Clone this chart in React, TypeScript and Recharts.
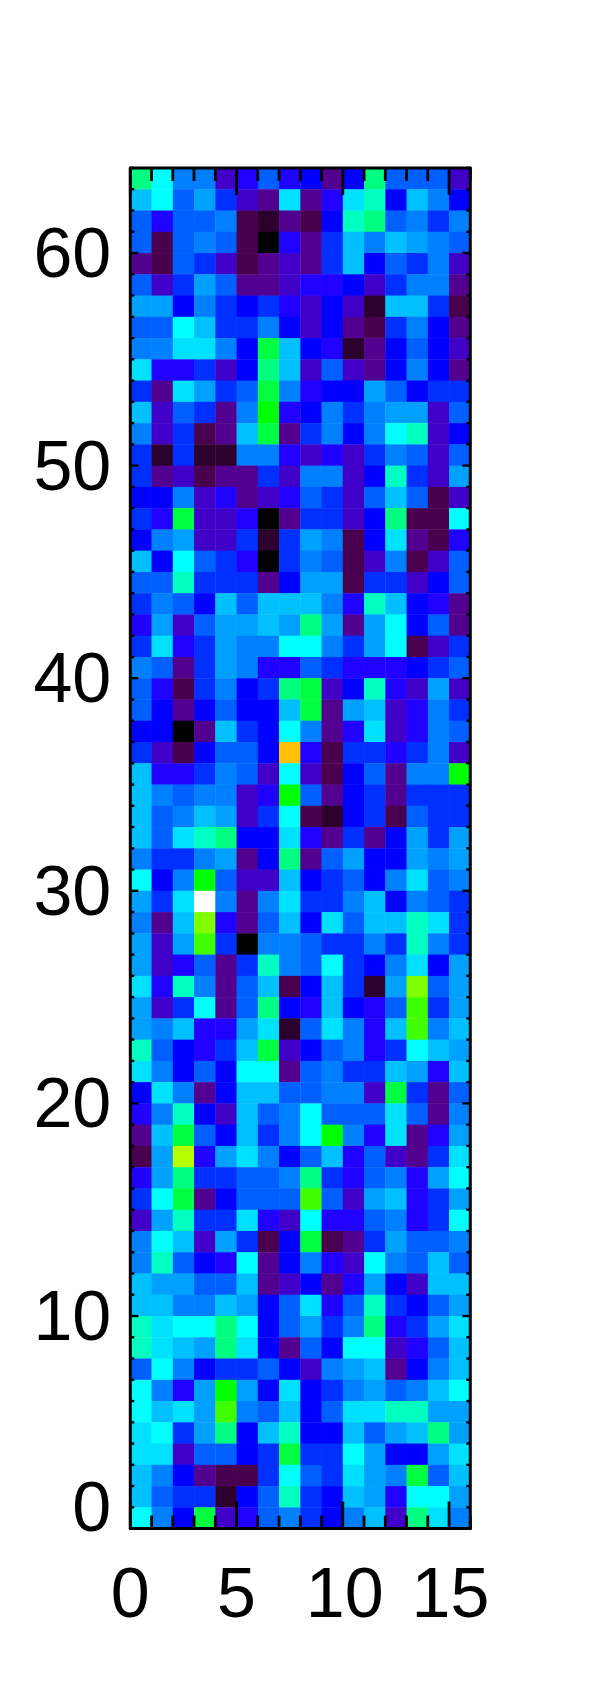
import React from "react";
import { ScatterChart, Scatter, XAxis, YAxis } from "recharts";

const xTicks = [0, 1, 2, 3, 4, 5, 6, 7, 8, 9, 10, 11, 12, 13, 14, 15, 16];
const xLabels = [0, 5, 10, 15];
const yTicks = [0,1,2,3,4,5,6,7,8,9,10,11,12,13,14,15,16,17,18,19,20,21,22,23,24,25,26,27,28,29,30,31,32,33,34,35,36,37,38,39,40,41,42,43,44,45,46,47,48,49,50,51,52,53,54,55,56,57,58,59,60,61,62,63,64];
const yLabels = [0, 10, 20, 30, 40, 50, 60];

const colourScale = [
  "#000000", "#2c002c", "#48004f", "#520090", "#4000c8", "#2000ff", "#0000ff", "#0030ff",
  "#0060ff", "#0080ff", "#00a0ff", "#00c0ff", "#00e0ff", "#00ffff", "#00ffc0", "#00ff80",
  "#00ff40", "#00ff00", "#40ff00", "#80ff00", "#b8ff00", "#ffc000", "#ffffff",
];

// colour-scale levels, rows from y = 63 (top) to y = 0 (bottom)
const levels = [
  [15,13,9,9,4,5,8,5,6,3,6,15,8,8,8,4],
  [11,13,8,10,7,4,3,12,3,5,12,14,6,11,9,6],
  [8,5,8,8,9,2,1,3,2,6,14,15,8,9,7,9],
  [8,2,8,9,8,2,0,5,3,7,11,9,11,10,9,8],
  [3,2,8,7,4,2,3,4,3,7,11,6,8,7,9,4],
  [8,4,7,10,8,3,3,4,5,5,6,4,7,9,9,3],
  [10,10,6,9,7,6,7,5,4,6,4,1,11,11,7,2],
  [8,8,13,11,7,7,9,6,4,6,3,2,7,9,6,3],
  [9,9,12,12,9,6,16,11,6,5,1,3,6,8,6,4],
  [12,5,5,7,4,6,15,11,4,8,4,3,6,9,6,3],
  [7,3,12,10,7,8,16,9,5,6,6,10,8,6,7,7],
  [11,4,8,7,3,9,17,5,6,9,7,9,10,10,4,8],
  [9,4,7,2,3,11,16,3,7,9,6,9,13,14,4,6],
  [7,1,7,1,1,9,9,5,4,5,4,7,9,8,4,8],
  [7,3,4,2,3,3,7,4,9,9,4,6,14,7,4,10],
  [6,6,9,4,5,3,4,5,8,7,4,8,11,8,2,4],
  [7,5,16,4,4,5,0,3,7,7,4,6,15,2,2,13],
  [6,9,10,4,4,7,1,7,10,9,2,6,12,3,2,5],
  [11,6,13,8,7,5,0,7,9,8,2,4,9,2,4,8],
  [8,8,14,7,7,7,3,6,10,10,2,7,7,4,6,8],
  [7,9,8,6,11,8,11,11,11,9,5,14,11,6,5,3],
  [5,10,4,8,10,10,11,10,15,10,3,10,13,6,8,3],
  [7,12,5,7,10,9,9,13,13,9,7,10,13,2,4,7],
  [9,8,3,7,10,9,5,5,8,7,5,5,5,6,7,8],
  [8,5,2,7,9,6,7,15,16,4,6,14,5,4,10,4],
  [8,6,3,6,8,6,6,11,16,3,10,11,4,5,9,7],
  [6,6,0,3,11,7,6,13,9,3,5,12,4,5,9,8],
  [7,4,2,6,8,8,6,21,5,2,7,7,5,7,9,4],
  [11,5,5,7,9,8,4,13,4,2,6,8,3,9,9,17],
  [11,9,8,9,9,4,5,17,8,3,6,7,3,7,7,7],
  [11,8,9,11,10,4,7,13,2,1,6,7,2,8,7,7],
  [11,8,12,14,15,6,6,12,5,3,7,3,6,10,7,10],
  [9,7,7,9,10,3,6,15,3,8,10,6,6,10,9,10],
  [13,6,9,17,8,4,4,11,6,7,8,6,9,12,8,9],
  [10,7,12,22,9,3,9,12,7,7,9,11,6,9,8,7],
  [9,3,11,19,5,3,8,11,6,12,8,11,11,14,12,7],
  [10,4,10,18,7,0,9,9,8,7,7,9,7,14,9,7],
  [10,4,5,8,3,7,14,9,8,13,7,6,9,12,6,10],
  [12,5,14,9,3,8,11,2,6,11,7,1,10,19,8,10],
  [10,4,7,13,3,8,15,6,5,11,6,5,8,18,7,10],
  [10,9,11,5,5,10,12,1,8,12,9,5,11,18,9,11],
  [14,8,6,5,7,11,16,4,6,8,9,5,7,13,11,10],
  [12,9,6,8,6,13,13,3,8,9,7,7,11,10,5,11],
  [6,12,9,3,6,11,11,8,8,9,9,4,16,7,3,8],
  [5,9,14,6,4,11,8,9,13,8,8,8,12,8,3,9],
  [3,11,16,8,6,11,7,9,13,17,9,5,12,3,5,10],
  [2,10,20,5,10,12,9,6,8,11,5,8,4,3,7,12],
  [5,10,15,7,7,8,8,9,15,7,5,8,9,5,10,13],
  [7,13,16,3,6,8,8,8,18,8,4,10,11,5,7,10],
  [4,10,14,7,7,12,5,4,13,5,5,8,9,5,7,13],
  [9,13,11,4,10,7,2,6,16,2,3,7,10,8,8,9],
  [9,14,8,6,5,13,3,6,9,5,4,13,9,8,11,8],
  [11,10,10,8,8,11,3,4,6,3,5,10,6,4,11,11],
  [11,11,9,9,11,10,6,8,12,5,8,14,7,6,8,10],
  [14,12,13,13,15,13,6,8,10,7,9,15,5,7,10,12],
  [14,12,11,10,15,12,6,3,8,6,13,13,4,5,8,11],
  [8,13,9,6,7,7,8,6,4,9,10,11,3,6,9,11],
  [13,9,5,10,17,10,6,12,6,7,9,10,8,9,11,13],
  [13,11,12,10,18,9,8,11,6,8,12,12,14,14,10,10],
  [12,13,7,10,15,6,11,14,6,6,11,8,10,11,15,10],
  [12,12,4,8,8,6,7,16,7,7,13,10,6,6,10,12],
  [11,9,6,3,2,2,7,13,8,7,12,10,9,16,8,11],
  [11,8,7,7,1,6,8,14,7,6,11,10,5,13,13,10],
  [13,9,6,16,4,5,8,9,7,6,9,11,4,15,12,9],
];

const cells = levels.flatMap((row, r) =>
  row.map((level, c) => ({ x: c + 0.5, y: levels.length - 1 - r + 0.5, level }))
);

const W = 582;
const H = 1683;
const PL = 122.3;
const PT = 160;
const PW = 340;
const PH = 1360.6;
const FONT = "'Liberation Sans', Arial, sans-serif";
const FS = 70;

const Cell = (p: any) => {
  const w = PW / 16;
  const h = PH / levels.length;
  return (
    <rect x={p.cx - w / 2} y={p.cy - h / 2} width={w + 0.4} height={h + 0.4}
      fill={colourScale[p.payload.level]} stroke="none" />
  );
};
const NoMark = () => null;

const BottomTick = (p: any) => {
  const v = p.payload.value;
  const X = p.payload.coordinate;
  const major = v % 5 === 0;
  const Y = PT + PH;
  return (
    <g>
      <line x1={X} x2={X} y1={Y} y2={Y - (major ? 27 : 13)} stroke="#000" strokeWidth={2.8} />
      {xLabels.includes(v) && (
        <text x={X + (v === 10 ? 2 : v === 15 ? 1.5 : 0)} y={1609} textAnchor="middle" fontFamily={FONT} fontSize={FS} fill="#000">{v}</text>
      )}
    </g>
  );
};
const TopTick = (p: any) => {
  const v = p.payload.value;
  const X = p.payload.coordinate;
  const major = v % 5 === 0;
  return <line x1={X} x2={X} y1={PT} y2={PT + (major ? 27 : 13)} stroke="#000" strokeWidth={2.8} />;
};
const LeftTick = (p: any) => {
  const v = p.payload.value;
  const Y = p.payload.coordinate;
  const major = v % 10 === 0;
  return (
    <g>
      <line x1={PL} x2={PL + (major ? 8 : 4)} y1={Y} y2={Y} stroke="#000" strokeWidth={2.4} />
      {yLabels.includes(v) && (
        <text x={PL - 19} y={v === 0 ? Y + 2.5 : Y + 24} textAnchor="end" fontFamily={FONT} fontSize={FS} fill="#000">{v}</text>
      )}
    </g>
  );
};
const RightTick = (p: any) => {
  const v = p.payload.value;
  const Y = p.payload.coordinate;
  const major = v % 10 === 0;
  return <line x1={PL + PW} x2={PL + PW - (major ? 8 : 4)} y1={Y} y2={Y} stroke="#000" strokeWidth={2.4} />;
};

const axisLine = { stroke: "#000", strokeWidth: 3, strokeLinecap: "round" as const };

export default function App() {
  return (
    <div style={{ position: "relative", width: W, height: H }}>
      <div style={{ position: "absolute", left: 0, top: 0 }}>
        <ScatterChart width={W} height={H}
          margin={{ top: PT, left: PL, right: W - PL - PW, bottom: H - PT - PH }}>
          <XAxis xAxisId="b" type="number" dataKey="x" domain={[0, 16]} hide />
          <YAxis yAxisId="l" type="number" dataKey="y" domain={[0, 64]} hide />
          <Scatter data={cells} xAxisId="b" yAxisId="l" isAnimationActive={false} shape={Cell} />
        </ScatterChart>
      </div>
      <div style={{ position: "absolute", left: 0, top: 0 }}>
        <ScatterChart width={W} height={H}
          margin={{ top: PT - 1, left: 0, right: W - PL - PW - 1, bottom: H - PT - PH - 1 }}>
          <XAxis xAxisId="b" type="number" dataKey="x" domain={[0, 16]} ticks={xTicks} interval={0}
            orientation="bottom" height={1} axisLine={axisLine} tickLine={false} tick={BottomTick} />
          <XAxis xAxisId="t" type="number" dataKey="x" domain={[0, 16]} ticks={xTicks} interval={0}
            orientation="top" height={1} axisLine={axisLine} tickLine={false} tick={TopTick} />
          <YAxis yAxisId="l" type="number" dataKey="y" domain={[0, 64]} ticks={yTicks} interval={0}
            orientation="left" width={PL} axisLine={axisLine} tickLine={false} tick={LeftTick} />
          <YAxis yAxisId="r" type="number" dataKey="y" domain={[0, 64]} ticks={yTicks} interval={0}
            orientation="right" width={1} axisLine={axisLine} tickLine={false} tick={RightTick} />
          <Scatter data={cells} xAxisId="b" yAxisId="l" isAnimationActive={false} shape={NoMark} />
          <Scatter data={cells} xAxisId="t" yAxisId="r" isAnimationActive={false} shape={NoMark} />
        </ScatterChart>
      </div>
    </div>
  );
}
